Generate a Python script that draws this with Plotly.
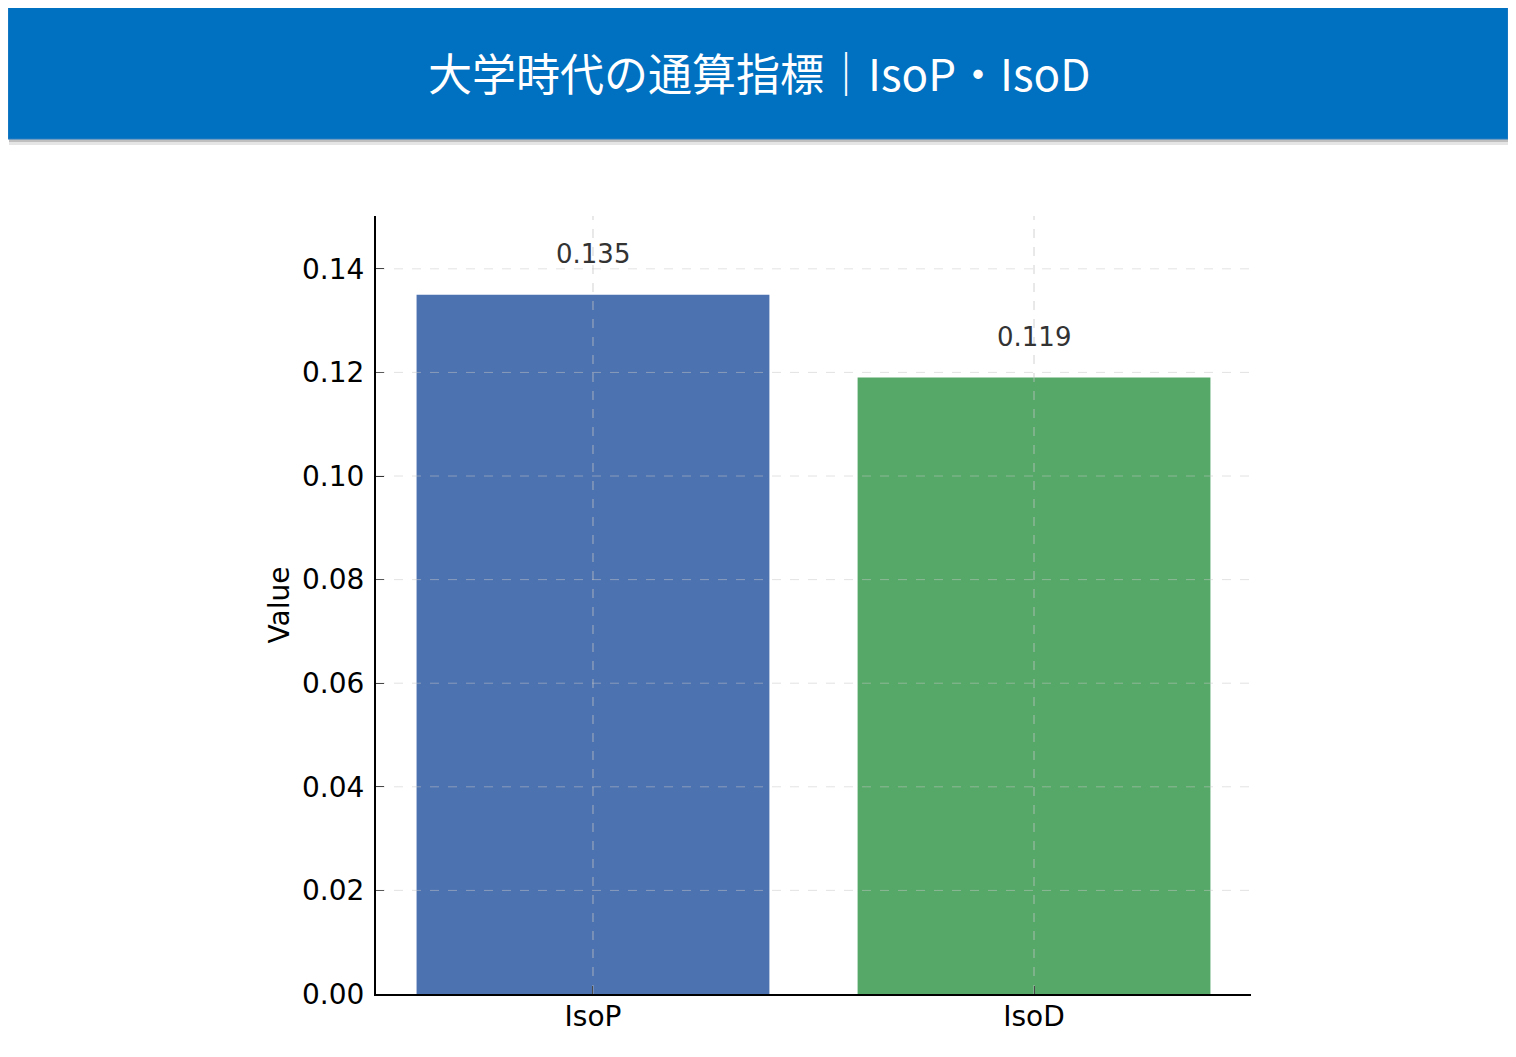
import plotly.graph_objects as go

# data
categories = ["IsoP", "IsoD"]
values = [0.135, 0.119]
bar_colors = ["#4C72B0", "#55A868"]
value_labels = ["0.135", "0.119"]
y_ticks = [0.00, 0.02, 0.04, 0.06, 0.08, 0.10, 0.12, 0.14]
title_text = "大学時代の通算指標｜IsoP・IsoD"

W, H = 1516, 1057
OFF = 8  # page body margin
L, R, T, B = 368, 273, 208, 71
pw, ph = W - L - R, H - T - B


def px_x(x):
    return (x - OFF - L) / pw


def px_y(y):
    return (H - B - (y - OFF)) / ph


fig = go.Figure()
fig.add_trace(go.Bar(
    x=categories, y=values, width=0.8,
    marker=dict(color=bar_colors, line=dict(width=0)),
    showlegend=False, hoverinfo="x+y",
))

for c, v, t in zip(categories, values, value_labels):
    fig.add_annotation(x=c, y=v, text=t, showarrow=False, yanchor="bottom",
                       yshift=24, font=dict(size=26, color="#333333", family="DejaVu Sans"))

# dashed grid drawn over the bars
grid = dict(color="rgba(200,200,200,0.5)", width=1, dash="dash")
for yt in y_ticks[1:]:
    fig.add_shape(type="line", xref="paper", yref="y", x0=0, x1=1, y0=yt, y1=yt,
                  line=grid, layer="above")
for c in categories:
    fig.add_shape(type="line", xref="x", yref="paper", x0=c, x1=c, y0=0, y1=1,
                  line=dict(color="rgba(195,195,195,0.75)", width=1, dash="dash"),
                  layer="above")

# banner with shadow
fig.add_shape(type="rect", xref="paper", yref="paper", layer="below",
              x0=px_x(9), x1=px_x(1510), y0=px_y(145), y1=px_y(8),
              fillcolor="rgba(150,150,150,0.25)", line=dict(width=0))
fig.add_shape(type="rect", xref="paper", yref="paper", layer="below",
              x0=px_x(9), x1=px_x(1509), y0=px_y(142), y1=px_y(8),
              fillcolor="rgba(120,120,120,0.35)", line=dict(width=0))
fig.add_shape(type="rect", xref="paper", yref="paper", layer="below",
              x0=px_x(8), x1=px_x(1508), y0=px_y(139), y1=px_y(4),
              fillcolor="#0070C0", line=dict(color="#2a7fc4", width=1))
fig.add_annotation(text=title_text, xref="paper", yref="paper",
                   x=px_x(759), y=px_y(72), showarrow=False,
                   xanchor="center", yanchor="middle",
                   font=dict(size=44, color="white", family="Noto Sans CJK JP"))

fig.update_layout(
    width=W, height=H,
    margin=dict(l=L, r=R, t=T, b=B),
    paper_bgcolor="white", plot_bgcolor="white",
    font=dict(family="DejaVu Sans", color="black"),
    xaxis=dict(
        range=[-0.492, 1.492], showline=True, linecolor="black", linewidth=2,
        ticks="inside", ticklen=8, tickcolor="black", tickwidth=1,
        showgrid=False, tickfont=dict(size=28), layer="above traces",
        ticklabelstandoff=-4,
    ),
    yaxis=dict(
        range=[0, 0.1502], tickvals=y_ticks, tickformat=".2f",
        showline=True, linecolor="black", linewidth=2,
        ticks="inside", ticklen=8, tickcolor="black", tickwidth=1,
        showgrid=False, zeroline=False, tickfont=dict(size=28),
        ticklabelstandoff=4, layer="above traces",
        title=dict(text="Value", font=dict(size=28), standoff=4),
    ),
)

fig.write_html("out.html")
